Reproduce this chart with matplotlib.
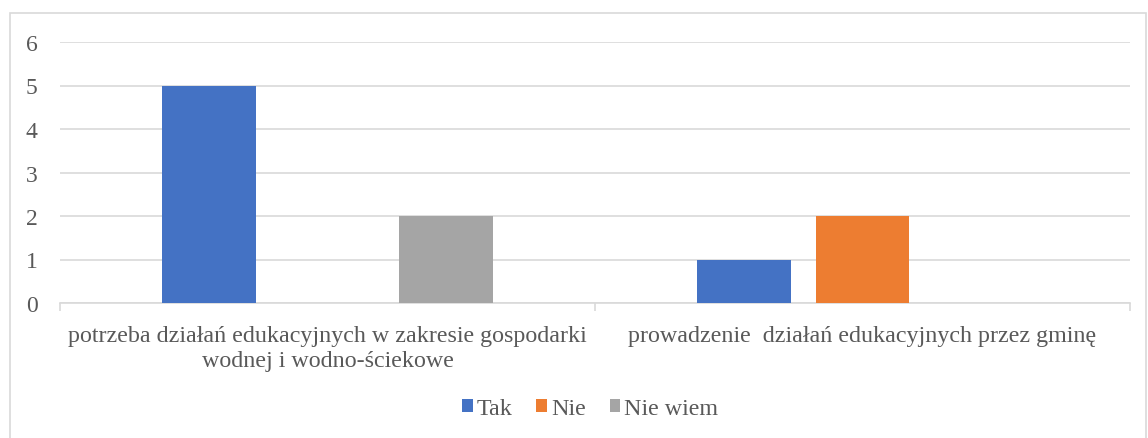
import numpy as np
import matplotlib.pyplot as plt
from matplotlib.patches import Rectangle

# Survey answers per question
categories = [
    'potrzeba działań edukacyjnych w zakresie gospodarki\nwodnej i wodno-ściekowe',
    'prowadzenie  działań edukacyjnych przez gminę',
]
series_names = ['Tak', 'Nie', 'Nie wiem']
tak = [5, 1]
nie = [0, 2]
nie_wiem = [2, 0]
colors = ['#4472C4', '#ED7D31', '#A5A5A5']

plt.rcParams['font.family'] = ['Liberation Serif', 'DejaVu Serif']
text_color = '#595959'
grid_color = '#D9D9D9'

fig = plt.figure(figsize=(11.48, 4.39), dpi=100)
ax = fig.add_axes([60 / 1148, 1 - 304 / 439, 1070 / 1148, 261 / 439])

# chart frame around the whole figure
fig.patches.append(Rectangle((10 / 1148, -0.01), 1136 / 1148, 1 - 14 / 439 + 0.01,
                             transform=fig.transFigure, fill=False,
                             edgecolor=grid_color, linewidth=1.2))

centers = np.arange(len(categories)) + 0.5
step = 0.2215
width = 0.174
for i, (vals, name) in enumerate(zip([tak, nie, nie_wiem], series_names)):
    ax.bar(centers + (i - 1) * step, vals, width=width, color=colors[i],
           label=name, zorder=3)

ax.set_xlim(0, len(categories))
ax.set_ylim(0, 6)
ax.set_yticks(range(7))
ax.yaxis.grid(True, color=grid_color, linewidth=1.2, zorder=0)
for side in ['top', 'right', 'left']:
    ax.spines[side].set_visible(False)
ax.spines['bottom'].set_color(grid_color)
ax.spines['bottom'].set_linewidth(1.2)
ax.tick_params(axis='y', length=0, labelsize=17, labelcolor=text_color, pad=16)

# category boundary ticks on the x axis
ax.set_xticks(range(len(categories) + 1))
ax.set_xticklabels([])
ax.tick_params(axis='x', length=6, width=1.2, color=grid_color)
for c, label in zip(centers, categories):
    ax.text(c, -0.5, label, ha='center', va='top', fontsize=17.3,
            color=text_color, linespacing=1.25)

leg = fig.legend(loc='center', bbox_to_anchor=(590 / 1148, 1 - 410 / 439),
                 ncol=3, frameon=False, fontsize=17.3, handlelength=0.45,
                 handleheight=0.45, handletextpad=0.15, columnspacing=1.0)
for t in leg.get_texts():
    t.set_color(text_color)

fig.savefig('out.png', dpi=100)
